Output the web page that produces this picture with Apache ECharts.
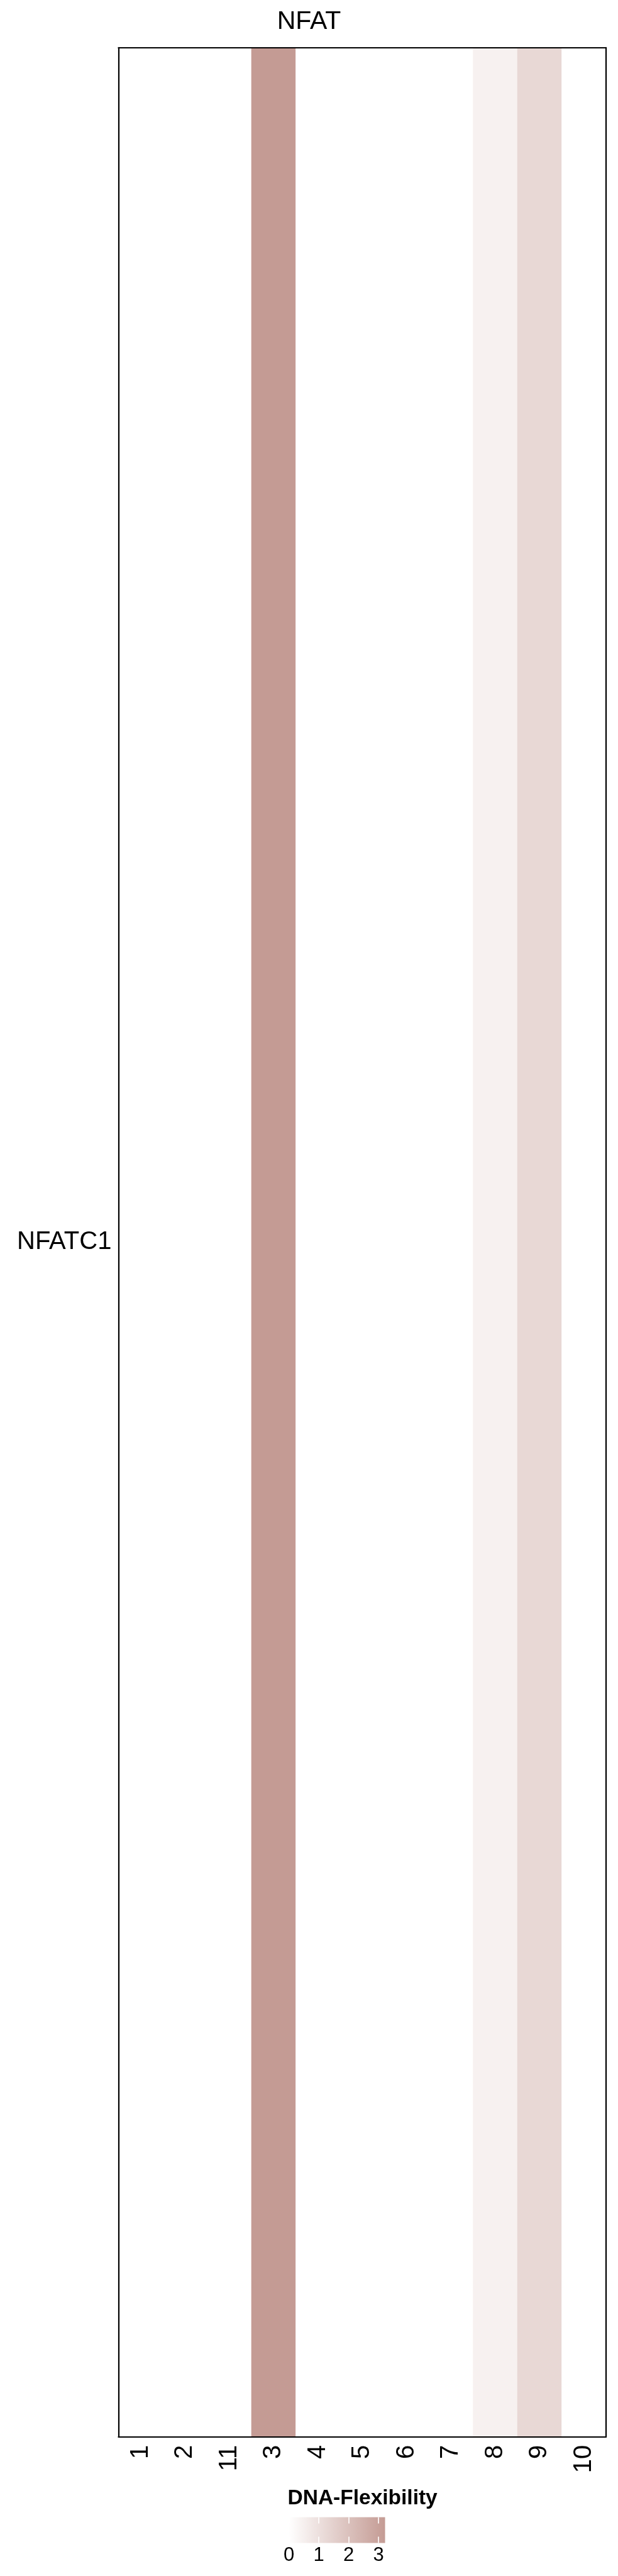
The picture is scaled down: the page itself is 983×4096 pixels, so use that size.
<!DOCTYPE html>
<html>
<head>
<meta charset="utf-8">
<script src="https://cdn.jsdelivr.net/npm/echarts@6/dist/echarts.min.js"></script>
<style>
html,body{margin:0;padding:0;background:#fff;}
#chart{width:983px;height:4096px;}
</style>
</head>
<body>
<div id="chart"></div>
<script>
// ---- data ----
const chartTitle = 'NFAT';
const legendTitle = 'DNA-Flexibility';
const positions = ['1', '2', '11', '3', '4', '5', '6', '7', '8', '9', '10'];
const factors = ['NFATC1'];
const flexValues = [0, 0, 0, 3.22, 0, 0, 0, 0, 0.44, 1.27, 0];
const legendTicks = [0, 1, 2, 3];
const scaleMin = 0;
const scaleMax = 3.22;
const lowColor = '#FFFFFF';
const highColor = '#C49B94';

const heatData = flexValues.map((v, i) => [i, 0, v]);

const font = 'Liberation Sans, Arial, Helvetica, sans-serif';
const chart = echarts.init(document.getElementById('chart'), null, {renderer: 'canvas'});

const borderLine = {show: true, lineStyle: {color: '#000', width: 2.2}};

const option = {
  backgroundColor: '#fff',
  animation: false,
  title: [
    {text: chartTitle, left: 'center', top: 9,
     textStyle: {fontFamily: font, fontSize: 41, fontWeight: 'normal', color: '#000'}},
    {text: legendTitle, left: 452.5, top: 3951,
     textStyle: {fontFamily: font, fontSize: 33.5, fontWeight: 'bold', color: '#000'}}
  ],
  grid: [
    {left: 188.4, top: 75.8, width: 775.6, height: 3799, containLabel: false},
    {left: 459.5, top: 4002.5, width: 153, height: 41, containLabel: false}
  ],
  visualMap: {
    show: false, type: 'continuous', seriesIndex: 0, dimension: 2,
    min: scaleMin, max: scaleMax,
    inRange: {color: [lowColor, highColor]}
  },
  xAxis: [
    {type: 'category', gridIndex: 0, data: positions, position: 'bottom', z: 10,
     axisLine: borderLine, axisTick: {show: false}, splitLine: {show: false},
     axisLabel: {rotate: 90, margin: 13, fontSize: 40, fontFamily: font, color: '#000'}},
    {type: 'category', gridIndex: 0, data: positions, position: 'top', z: 10,
     axisLine: borderLine, axisTick: {show: false}, axisLabel: {show: false}, splitLine: {show: false}},
    {type: 'value', gridIndex: 1, min: scaleMin, max: scaleMax, position: 'bottom', z: 10,
     axisLine: {show: false}, splitLine: {show: false},
     axisTick: {show: true, inside: true, length: 10, customValues: legendTicks,
                lineStyle: {color: '#fff', width: 1.6}},
     axisLabel: {show: true, margin: 4, fontSize: 31, fontFamily: font, color: '#000',
                 customValues: legendTicks}},
    {type: 'value', gridIndex: 1, min: scaleMin, max: scaleMax, position: 'top', z: 10,
     axisLine: {show: false}, splitLine: {show: false},
     axisTick: {show: true, inside: true, length: 10, customValues: legendTicks,
                lineStyle: {color: '#fff', width: 1.6}},
     axisLabel: {show: false}}
  ],
  yAxis: [
    {type: 'category', gridIndex: 0, data: factors, position: 'left', z: 10,
     axisLine: borderLine, axisTick: {show: false}, splitLine: {show: false},
     axisLabel: {margin: 11, fontSize: 40, fontFamily: font, color: '#000'}},
    {type: 'category', gridIndex: 0, data: factors, position: 'right', z: 10,
     axisLine: borderLine, axisTick: {show: false}, axisLabel: {show: false}, splitLine: {show: false}},
    {type: 'value', gridIndex: 1, min: 0, max: 1, show: false}
  ],
  series: [
    {type: 'heatmap', xAxisIndex: 0, yAxisIndex: 0, data: heatData,
     itemStyle: {borderWidth: 0}, emphasis: {disabled: true}},
    {type: 'custom', xAxisIndex: 2, yAxisIndex: 2, data: [[scaleMin, scaleMax]], silent: true,
     renderItem: function (params, api) {
       const p0 = api.coord([api.value(0), 0]);
       const p1 = api.coord([api.value(1), 1]);
       return {
         type: 'rect',
         shape: {x: p0[0], y: p1[1], width: p1[0] - p0[0], height: p0[1] - p1[1]},
         style: {
           fill: {type: 'linear', x: 0, y: 0, x2: 1, y2: 0, global: false,
                  colorStops: [{offset: 0, color: lowColor}, {offset: 1, color: highColor}]}
         }
       };
     }}
  ]
};
chart.setOption(option);
</script>
</body>
</html>
